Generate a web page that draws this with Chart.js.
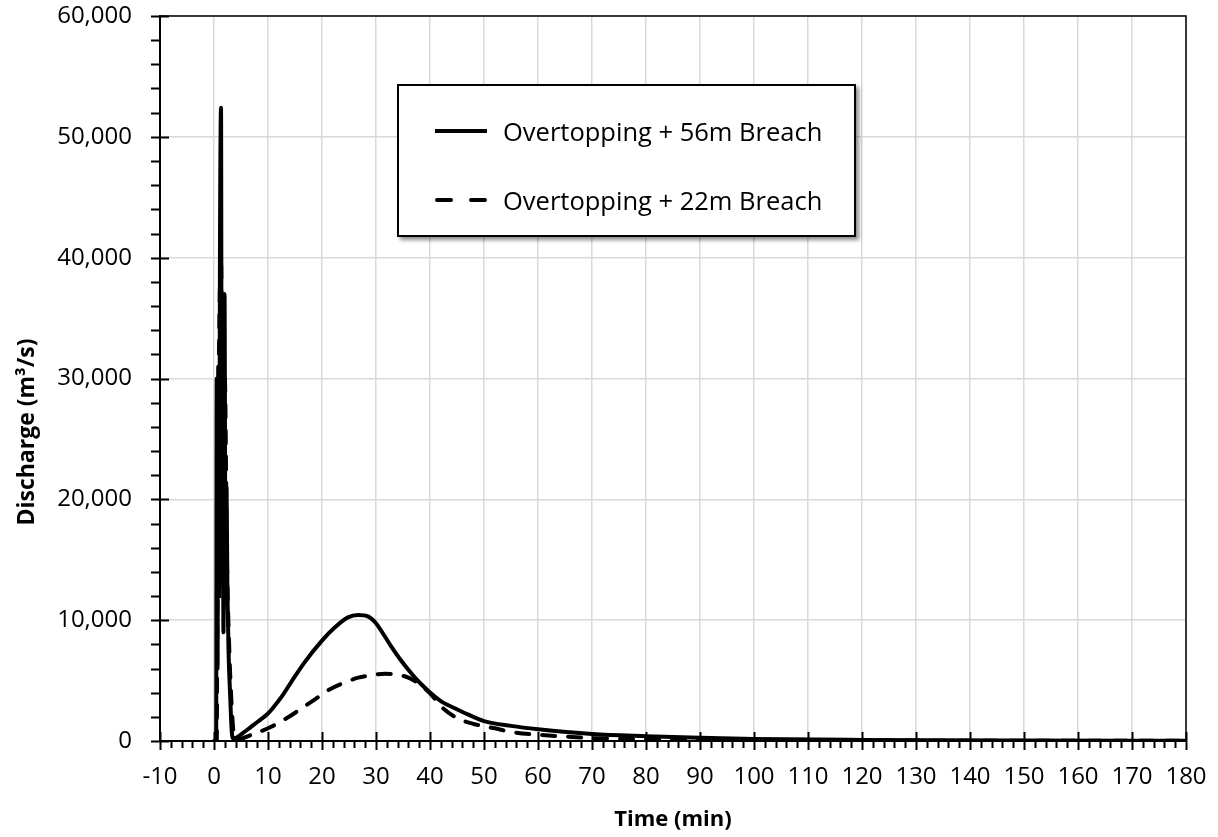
<!DOCTYPE html>
<html>
<head>
<meta charset="utf-8">
<script src="https://cdn.jsdelivr.net/npm/chart.js@4.4.0/dist/chart.umd.min.js"></script>
<style>
  body { margin: 0; background: #fff; }
  #wrap { position: relative; width: 1218px; height: 837px; }
  #legend {
    position: absolute; left: 397px; top: 84px; width: 455px; height: 149px;
    border: 2px solid #000; background: #fff;
    box-shadow: 3px 3px 4px rgba(0,0,0,0.45);
    font-family: 'Open Sans', sans-serif; font-size: 25.5px; color: #000;
  }
  .row { position: absolute; left: 36px; height: 30px; display: flex; align-items: center; }
  .row svg { margin-right: 16px; }
</style>
</head>
<body>
<div id="wrap">
  <canvas id="myChart" width="1218" height="837"></canvas>
  <div id="legend">
    <div class="row" style="top:30px">
      <svg width="52" height="6"><line x1="0" y1="3" x2="52" y2="3" stroke="#000" stroke-width="4"/></svg>
      <span id="lab0"></span>
    </div>
    <div class="row" style="top:99px">
      <svg width="52" height="6"><line x1="2" y1="3" x2="52" y2="3" stroke="#000" stroke-width="4" stroke-dasharray="14 20" stroke-linecap="round"/></svg>
      <span id="lab1"></span>
    </div>
  </div>
</div>
<script>
// series names
const seriesNames = ["Overtopping + 56m Breach", "Overtopping + 22m Breach"];

// 56m breach (solid)
const timeSolid = [0, 0.4, 0.5, 0.65, 0.8, 0.95, 1.1, 1.3, 1.45, 1.6, 1.75, 1.95, 2.1, 2.3, 2.5, 2.7, 3.0, 3.3, 3.6,
  5.7, 6.8, 8.1, 10, 11.2, 12.5, 14.3, 16.8, 20, 22.4, 24.8, 26.7, 28.6, 30.1, 31.5, 32.9, 34.5, 36.6, 38.2, 39.9,
  42, 44.7, 47, 50, 55, 60, 70, 80, 90, 100, 120, 150, 180];
const flowSolid = [0, 0, 30000, 6000, 31000, 12000, 40000, 52400, 13000, 33000, 9000, 37000, 18000, 21000, 12000, 7300, 3700, 700, 200,
  770, 1150, 1590, 2280, 2900, 3650, 4880, 6530, 8310, 9410, 10230, 10430, 10290, 9690, 8750, 7770, 6750, 5570, 4780, 4060,
  3300, 2690, 2200, 1650, 1250, 970, 580, 400, 270, 170, 90, 40, 20];

// 22m breach (dashed)
const timeDashed = [0, 0.5, 0.7, 1.3, 1.6, 2.0, 2.4, 2.8, 3.2, 3.6, 4.0,
  6.9, 10.6, 13.5, 16.2, 18.7, 21.1, 23.9, 26.7, 29.2, 31.7, 33.8, 36, 38, 40, 42.2, 45, 48, 52, 55, 60, 65, 70,
  80, 90, 100, 120, 150, 180];
const flowDashed = [0, 0, 20000, 40000, 25000, 30000, 15000, 8000, 3500, 800, 100,
  500, 1180, 1900, 2690, 3450, 4200, 4780, 5240, 5450, 5570, 5480, 5250, 4700, 3950, 2800, 1900, 1420, 1050, 750, 520, 370, 240,
  150, 100, 70, 40, 20, 10];

const xTickValues = [-10, 0, 10, 20, 30, 40, 50, 60, 70, 80, 90, 100, 110, 120, 130, 140, 150, 160, 170, 180];
const yTickValues = [0, 10000, 20000, 30000, 40000, 50000, 60000];

document.getElementById("lab0").textContent = seriesNames[0];
document.getElementById("lab1").textContent = seriesNames[1];

const fam = "'Open Sans', sans-serif";

const frameTicks = {
  id: "frameTicks",
  afterDraw(chart) {
    const { ctx, chartArea: a, scales: { x, y } } = chart;
    ctx.save();
    ctx.strokeStyle = "#000";
    ctx.lineWidth = 1.5;
    ctx.beginPath();
    ctx.moveTo(a.left, a.top);
    ctx.lineTo(a.right, a.top);
    ctx.lineTo(a.right, a.bottom);
    ctx.stroke();

    ctx.lineWidth = 2;
    ctx.beginPath();
    for (let t = x.min; t <= x.max; t += 2) {
      const px = Math.round(x.getPixelForValue(t)) + 0.5;
      const major = t % 10 === 0;
      ctx.moveTo(px, major ? a.bottom - 9 : a.bottom);
      ctx.lineTo(px, a.bottom + (major ? 9 : 7));
    }
    for (let v = y.min; v <= y.max; v += 2000) {
      const py = Math.round(y.getPixelForValue(v)) + 0.5;
      const major = v % 10000 === 0;
      ctx.moveTo(a.left - 9, py);
      ctx.lineTo(major ? a.left + 9 : a.left, py);
    }
    ctx.stroke();

    // y axis title
    ctx.translate(27, 432);
    ctx.rotate(-Math.PI / 2);
    ctx.fillStyle = "#000";
    ctx.font = "bold 23px " + fam;
    ctx.textAlign = "center";
    ctx.textBaseline = "middle";
    ctx.fillText("Discharge (m³/s)", 0, 0);
    ctx.restore();
  }
};

new Chart("myChart", {
  type: "line",
  data: {
    datasets: [
      {
        label: seriesNames[0],
        data: timeSolid.map((t, i) => ({ x: t, y: flowSolid[i] })),
        borderColor: "#000",
        borderWidth: 4,
        pointRadius: 0,
        cubicInterpolationMode: "monotone",
        fill: false
      },
      {
        label: seriesNames[1],
        data: timeDashed.map((t, i) => ({ x: t, y: flowDashed[i] })),
        borderColor: "#000",
        borderWidth: 4,
        borderDash: [13, 13],
        borderCapStyle: "round",
        pointRadius: 0,
        cubicInterpolationMode: "monotone",
        fill: false
      }
    ]
  },
  options: {
    responsive: false,
    animation: false,
    layout: { padding: { top: 16, right: 32, left: 0, bottom: 0 } },
    plugins: { legend: { display: false }, tooltip: { enabled: false } },
    scales: {
      x: {
        type: "linear",
        min: -10,
        max: 180,
        afterBuildTicks: (s) => { s.ticks = xTickValues.map((v) => ({ value: v })); },
        afterFit: (s) => { s.height = 96; s.paddingLeft = 0; s.paddingRight = 0; },
        ticks: { padding: 22, color: "#000", font: { family: fam, size: 24 }, maxRotation: 0, autoSkip: false },
        grid: { color: "#d9d9d9", lineWidth: 1.5, drawTicks: false },
        border: { color: "#000", width: 2 },
        title: {
          display: true, text: "Time (min)", color: "#000",
          font: { family: fam, size: 22, weight: "bold" },
          padding: { top: 0, bottom: 4 }
        }
      },
      y: {
        min: 0,
        max: 60000,
        afterBuildTicks: (s) => { s.ticks = yTickValues.map((v) => ({ value: v })); },
        afterFit: (s) => { s.width = 160; s.paddingTop = 0; s.paddingBottom = 0; },
        ticks: {
          padding: 28, color: "#000", font: { family: fam, size: 24 },
          callback: (v) => v.toLocaleString("en-US")
        },
        grid: { color: "#d9d9d9", lineWidth: 1.5, drawTicks: false },
        border: { color: "#000", width: 2 }
      }
    }
  },
  plugins: [frameTicks]
});
</script>
</body>
</html>
